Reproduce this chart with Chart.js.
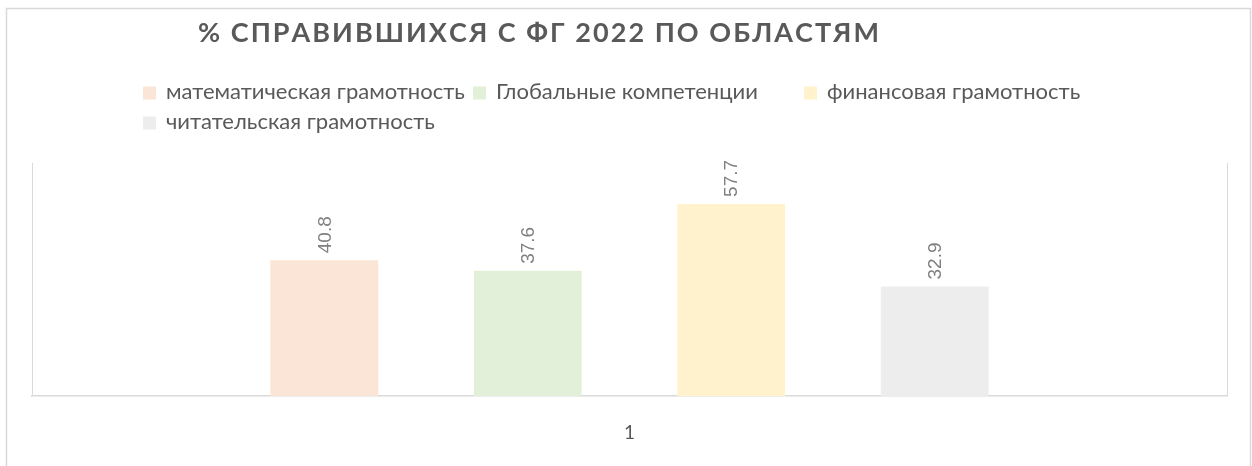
<!DOCTYPE html>
<html>
<head>
<meta charset="utf-8">
<script src="https://cdn.jsdelivr.net/npm/chart.js@4.4.0/dist/chart.umd.min.js"></script>
<style>
  html, body { margin: 0; padding: 0; background: #ffffff; }
  #wrap { width: 1252px; height: 466px; position: relative; }
</style>
</head>
<body>
<div id="wrap"><canvas id="c" width="1252" height="466"></canvas></div>
<script>
// ---- data ----
const categories = ['1'];
const seriesNames = [
  'математическая грамотность',
  'Глобальные компетенции',
  'финансовая грамотность',
  'читательская грамотность'
];
const mathValues = [40.8];
const globalValues = [37.6];
const financeValues = [57.7];
const readingValues = [32.9];
const titleText = '% СПРАВИВШИХСЯ С ФГ 2022 ПО ОБЛАСТЯМ';
const yMin = 0;
const yMax = 70;

// ---- styles ----
const seriesColors = ['#FBE5D6', '#E2F0D9', '#FFF2CC', '#EDEDED'];
const textDark = '#595959';
const labelGray = '#808080';
const lineGray = '#d9d9d9';

const seriesValues = [mathValues, globalValues, financeValues, readingValues];

// Outer frame
const framePlugin = {
  id: 'frame',
  beforeDraw(chart) {
    const ctx = chart.ctx;
    ctx.save();
    ctx.fillStyle = '#ffffff';
    ctx.fillRect(0, 0, chart.width, chart.height);
    ctx.strokeStyle = lineGray;
    ctx.lineWidth = 1.5;
    ctx.strokeRect(6.5, 8.5, 1244, 480);
    ctx.restore();
  }
};

// Title with letter spacing
const titlePlugin = {
  id: 'spacedTitle',
  afterDraw(chart) {
    const ctx = chart.ctx;
    ctx.save();
    ctx.font = 'bold 27px Lato';
    ctx.fillStyle = textDark;
    ctx.textBaseline = 'alphabetic';
    const chars = Array.from(titleText);
    let raw = 0;
    chars.forEach(ch => raw += ctx.measureText(ch).width);
    const x0 = 198, x1 = 879;
    const spacing = (x1 - x0 - raw) / (chars.length - 1);
    let x = x0;
    chars.forEach(ch => {
      ctx.fillText(ch, x, 41.5);
      x += ctx.measureText(ch).width + spacing;
    });
    ctx.restore();
  }
};

// Legend laid out like the original (fixed slots)
const legendPlugin = {
  id: 'slotLegend',
  afterDraw(chart) {
    const ctx = chart.ctx;
    const slots = [
      { x: 143, y: 98.5 },
      { x: 473, y: 98.5 },
      { x: 804, y: 98.5 },
      { x: 143, y: 128.5 }
    ];
    ctx.save();
    ctx.font = '20px Lato';
    const w20 = ctx.measureText(seriesNames[0]).width;
    const fs = 20 * 299 / w20;
    ctx.font = fs.toFixed(2) + 'px Lato';
    ctx.textBaseline = 'alphabetic';
    chart.data.datasets.forEach((ds, i) => {
      const s = slots[i];
      ctx.fillStyle = ds.backgroundColor;
      ctx.fillRect(s.x, s.y - 12, 13, 13);
      ctx.fillStyle = textDark;
      ctx.fillText(ds.label, s.x + 23, s.y);
    });
    ctx.restore();
  }
};

// Rotated value labels above bars
const valueLabelPlugin = {
  id: 'valueLabels',
  afterDatasetsDraw(chart) {
    const ctx = chart.ctx;
    ctx.save();
    ctx.font = '19px "Liberation Sans"';
    ctx.fillStyle = labelGray;
    ctx.textAlign = 'left';
    ctx.textBaseline = 'middle';
    chart.data.datasets.forEach((ds, i) => {
      const meta = chart.getDatasetMeta(i);
      meta.data.forEach((el, j) => {
        const v = ds.data[j];
        ctx.save();
        ctx.translate(el.x + 1, el.y - 7);
        ctx.rotate(-Math.PI / 2);
        ctx.fillText(v.toFixed(1), 0, 0);
        ctx.restore();
      });
    });
    ctx.restore();
  }
};

const datasets = seriesNames.map((name, i) => ({
  label: name,
  data: seriesValues[i],
  backgroundColor: seriesColors[i],
  borderWidth: 0,
  categoryPercentage: 0.681,
  barPercentage: 0.53
}));

new Chart(document.getElementById('c'), {
  type: 'bar',
  data: { labels: categories, datasets: datasets },
  plugins: [framePlugin, titlePlugin, legendPlugin, valueLabelPlugin],
  options: {
    responsive: false,
    devicePixelRatio: 1,
    animation: false,
    layout: { padding: { top: 163, left: 32, right: 25, bottom: 0 } },
    plugins: {
      legend: { display: false },
      title: { display: false },
      tooltip: { enabled: false }
    },
    scales: {
      x: {
        offset: true,
        grid: { display: true, offset: true, color: lineGray, lineWidth: 1, drawTicks: false },
        border: { display: true, color: lineGray, width: 1.5 },
        ticks: { color: textDark, font: { family: 'Lato', size: 19 }, padding: 25 },
        afterFit(scale) { scale.height = 70; }
      },
      y: {
        display: false,
        min: yMin,
        max: yMax
      }
    }
  }
});
</script>
</body>
</html>
